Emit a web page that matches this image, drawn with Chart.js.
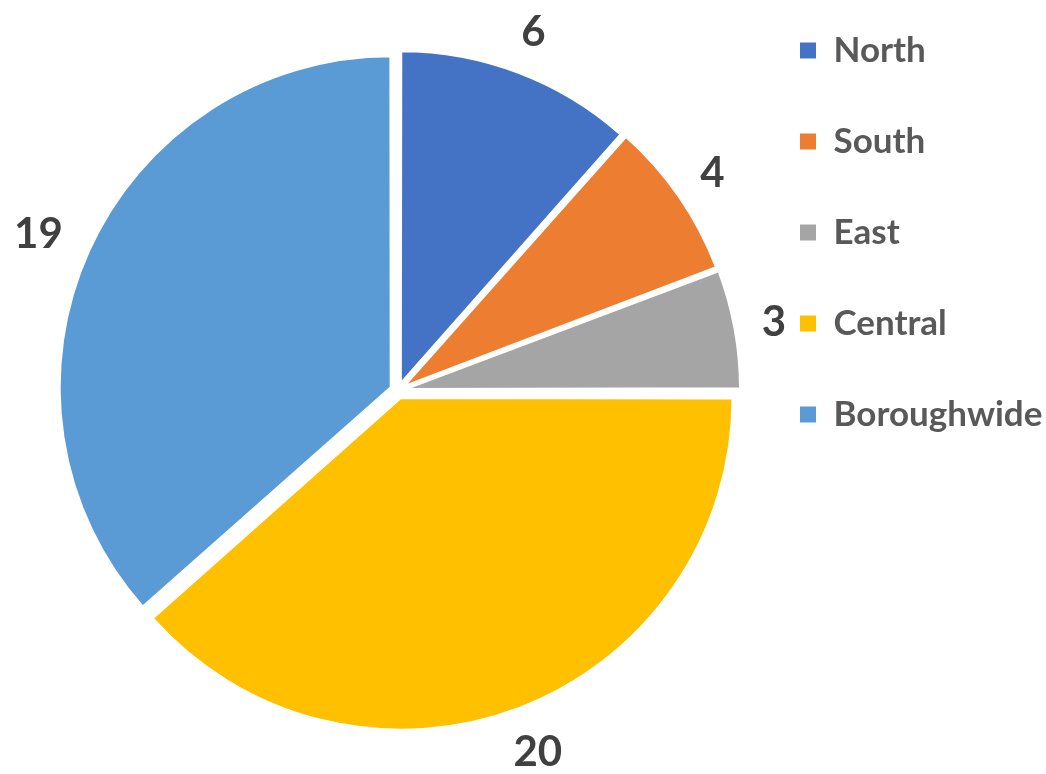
<!DOCTYPE html>
<html>
<head>
<meta charset="utf-8">
<script src="https://cdn.jsdelivr.net/npm/chart.js@4/dist/chart.umd.min.js"></script>
<style>
  html, body { margin: 0; padding: 0; background: #ffffff; }
  #wrap { width: 1046px; height: 774px; position: relative; }
</style>
</head>
<body>
<div id="wrap"><canvas id="c" width="1046" height="774"></canvas></div>
<script>
const categories = ['North', 'South', 'East', 'Central', 'Boroughwide'];
const values = [6, 4, 3, 20, 19];
const colors = ['#4472C4', '#ED7D31', '#A5A5A5', '#FFC000', '#5B9BD5'];

const labelPlugin = {
  id: 'outsideLabels',
  afterDatasetsDraw(chart) {
    const ctx = chart.ctx;
    const meta = chart.getDatasetMeta(0);
    const size = 42;
    ctx.save();
    ctx.font = 'bold ' + size + 'px Lato';
    ctx.fillStyle = '#404040';
    ctx.textAlign = 'center';
    ctx.textBaseline = 'alphabetic';
    const capH = size * 0.72;
    meta.data.forEach((arc, i) => {
      const p = arc.getProps(['x', 'y', 'startAngle', 'endAngle', 'outerRadius'], true);
      const mid = (p.startAngle + p.endAngle) / 2;
      const dx = Math.cos(mid), dy = Math.sin(mid);
      const shift = (arc.options.offset || 0) / 4;
      const r = p.outerRadius + shift + 33;
      const txt = String(values[i]);
      const w = ctx.measureText(txt).width;
      const cx = p.x + dx * r + dx * w / 2;
      const cy = p.y + dy * r + dy * capH / 2;
      ctx.fillText(txt, cx, cy + capH / 2);
    });
    ctx.restore();
  }
};

function build() {
  new Chart(document.getElementById('c'), {
    type: 'pie',
    data: {
      labels: categories,
      datasets: [{
        data: values,
        backgroundColor: colors,
        borderColor: '#ffffff',
        borderWidth: 2,
        hoverBorderWidth: 2,
        offset: 32,
        hoverOffset: 0
      }]
    },
    options: {
      responsive: false,
      animation: false,
      events: [],
      layout: { padding: { left: 52, top: 7, bottom: 0, right: 0 } },
      plugins: {
        tooltip: { enabled: false },
        legend: {
          position: 'right',
          align: 'start',
          maxWidth: 302,
          title: { display: true, text: '', font: { size: 10, lineHeight: 1 }, padding: { top: -40, bottom: 0 } },
          labels: {
            boxWidth: 16,
            boxHeight: 16,
            padding: 56,
            color: '#595959',
            font: { family: 'Lato', size: 35, weight: 'bold' },
            generateLabels(chart) {
              const items = Chart.overrides.pie.plugins.legend.labels.generateLabels(chart);
              items.forEach(it => { it.lineWidth = 0; it.strokeStyle = 'rgba(0,0,0,0)'; });
              return items;
            }
          }
        }
      }
    },
    plugins: [labelPlugin]
  });
}

Promise.all([
  document.fonts.load('bold 35px Lato'),
  document.fonts.load('bold 42px Lato')
]).then(build, build);
</script>
</body>
</html>
